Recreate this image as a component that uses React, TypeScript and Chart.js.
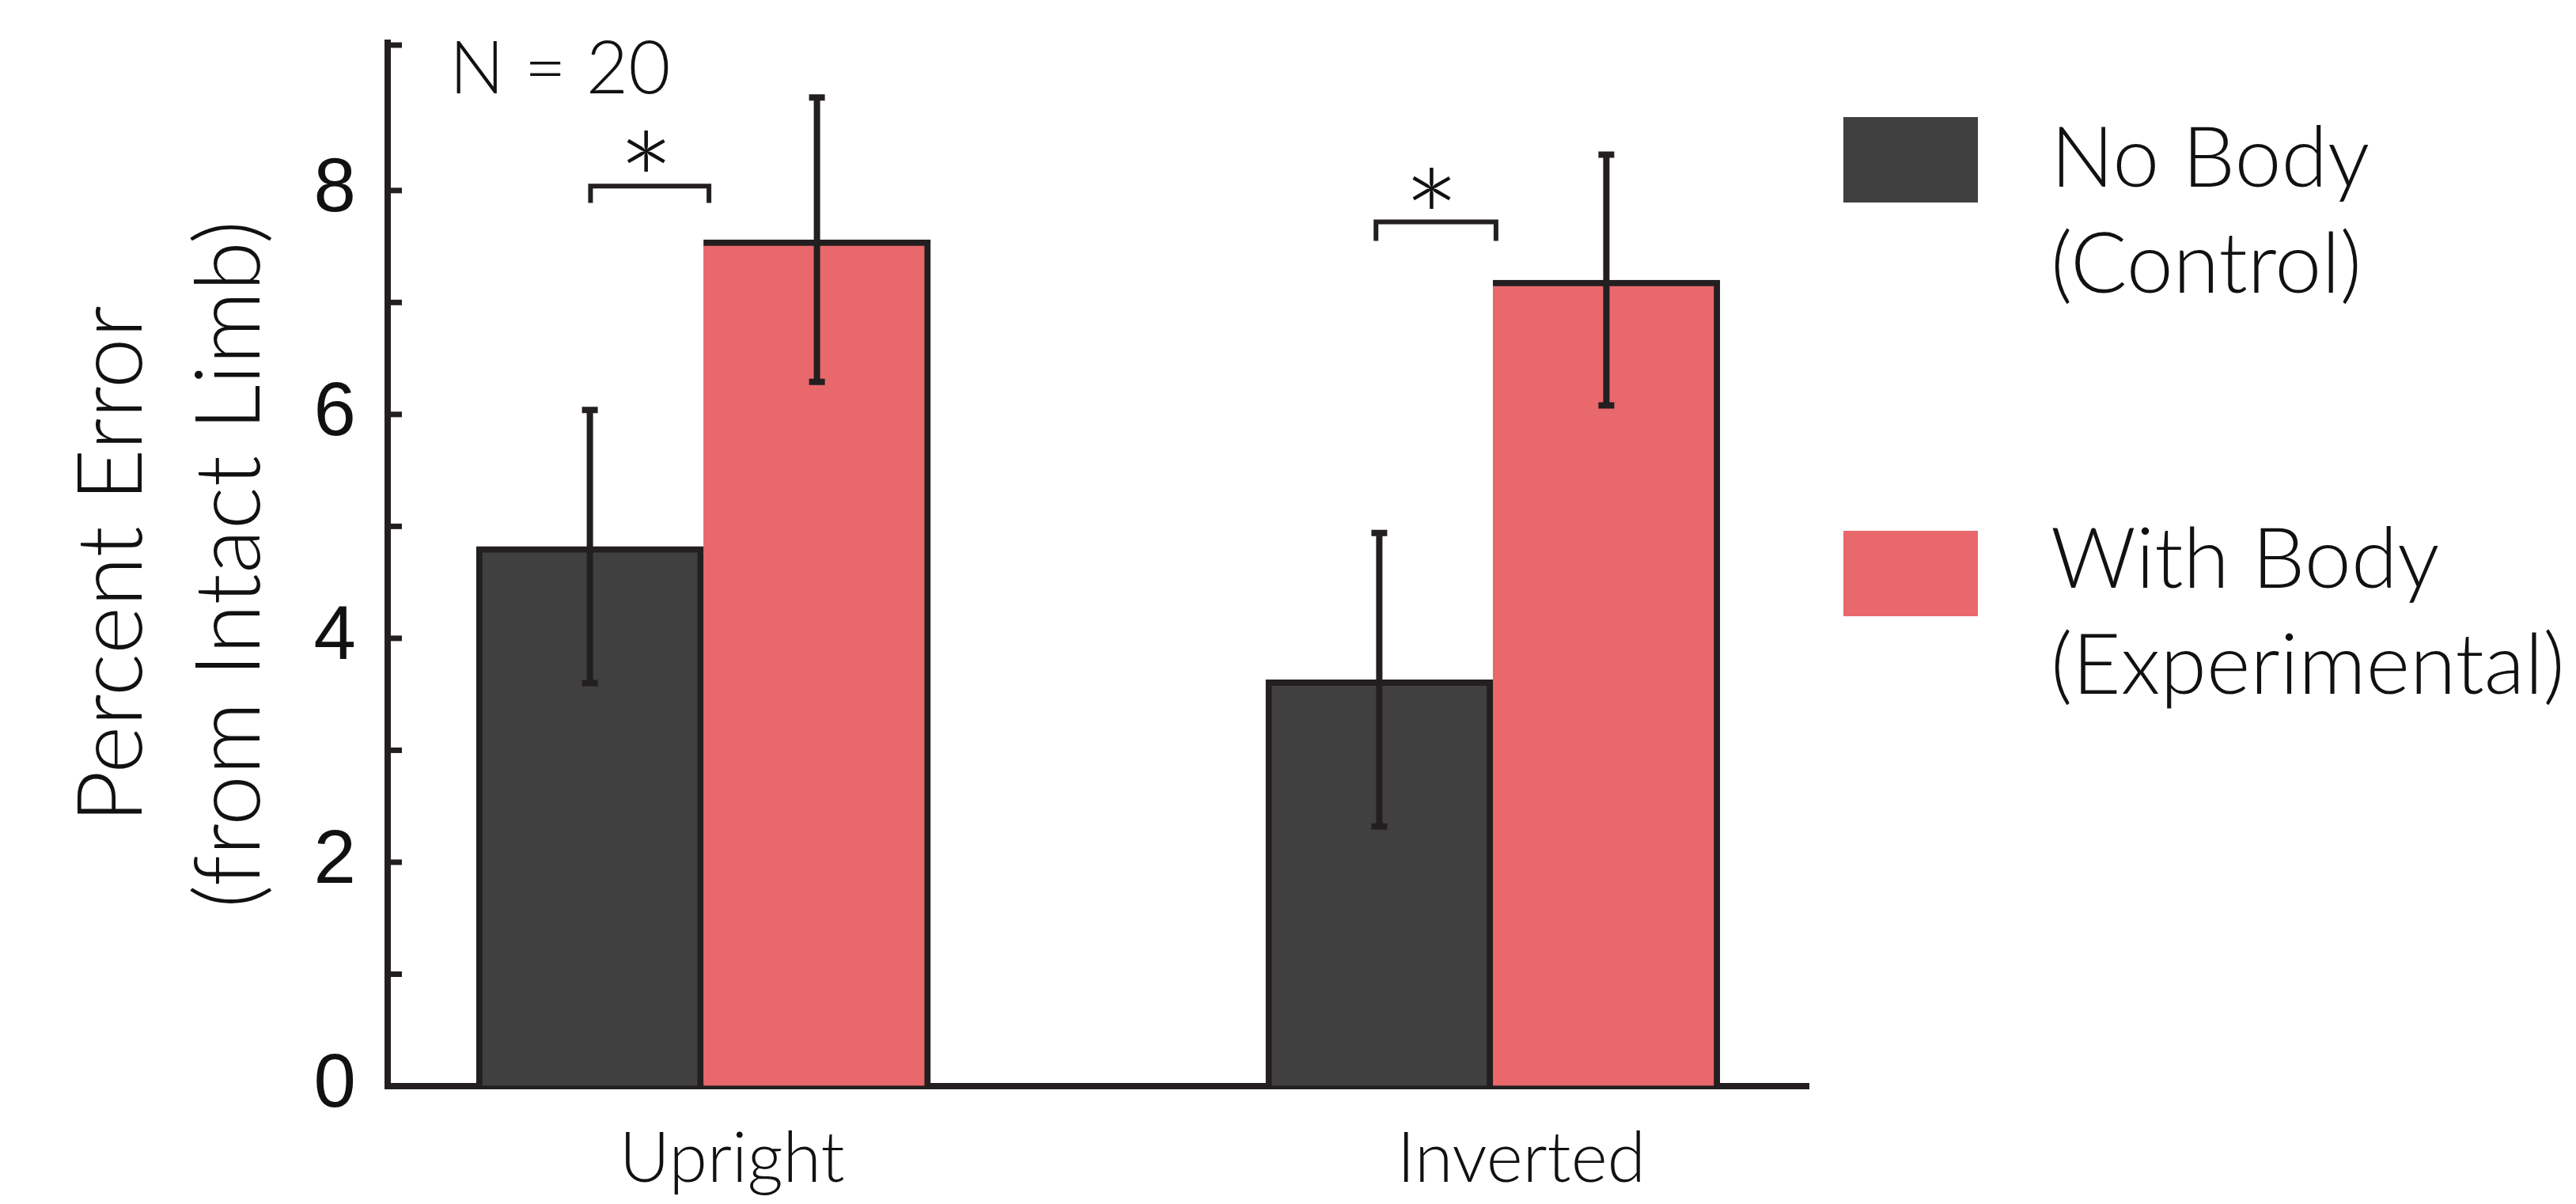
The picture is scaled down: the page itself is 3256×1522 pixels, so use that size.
import React, { useEffect, useRef } from 'react';
import { Chart, registerables } from 'chart.js';

Chart.register(...registerables);

// ---------- data ----------
const categories = ['Upright', 'Inverted'];
const categoryPositions = [1, 2];
const seriesLabels = [
  ['No Body', '(Control)'],
  ['With Body', '(Experimental)'],
];
const noBody = [4.82, 3.63];
const withBody = [7.56, 7.2];
const noBodyErr = [1.22, 1.31];
const withBodyErr = [1.27, 1.12];
const yTickValues = [0, 1, 2, 3, 4, 5, 6, 7, 8];
const yLabelledTicks = [0, 2, 4, 6, 8];
const yMin = 0;
const yMax = 9.32;
const xMin = 0.6;
const xMax = 2.4;
// significance brackets (data coordinates)
const sigStart = [0.857, 1.852];
const sigEnd = [1.007, 2.004];
const sigLevel = [8.04, 7.72];
const sigLegEnd = [7.89, 7.55];
const sigMarkX = [0.927, 1.922];
const sigMarkY = [8.35, 8.02];
const sigMarkText = '*';
const sampleLabel = 'N = 20';
const yTitle = ['Percent Error', '(from Intact Limb)'];

// ---------- styles ----------
const DARK = '#404040';
const RED = '#E9686C';
const EDGE = '#231F20';
const TEXT = '#111111';
const LIGHT_FONT = 'Lato';

const W = 3256;
const H = 1522;

const inwardTicksPlugin = {
  id: 'inwardTicks',
  afterDraw(chart: any) {
    const { ctx, chartArea } = chart;
    const y = chart.scales.y;
    ctx.save();
    ctx.strokeStyle = EDGE;
    ctx.lineWidth = 7;
    const vals = [...yTickValues, yMax];
    vals.forEach((v) => {
      const py = Math.max(y.getPixelForValue(v), chartArea.top + 3);
      ctx.beginPath();
      ctx.moveTo(chartArea.left, py);
      ctx.lineTo(chartArea.left + 18, py);
      ctx.stroke();
    });
    ctx.restore();
  },
};

const errorBarPlugin = {
  id: 'errorBars',
  afterDatasetsDraw(chart: any) {
    const { ctx } = chart;
    const y = chart.scales.y;
    const vals = [noBody, withBody];
    const errs = [noBodyErr, withBodyErr];
    ctx.save();
    ctx.strokeStyle = EDGE;
    vals.forEach((series, di) => {
      const meta = chart.getDatasetMeta(di);
      meta.data.forEach((bar: any, i: number) => {
        const top = y.getPixelForValue(series[i] + errs[di][i]);
        const bot = y.getPixelForValue(series[i] - errs[di][i]);
        ctx.lineWidth = 8;
        ctx.beginPath();
        ctx.moveTo(bar.x, top);
        ctx.lineTo(bar.x, bot);
        ctx.stroke();
        ctx.lineWidth = 8;
        ctx.beginPath();
        ctx.moveTo(bar.x - 10, top);
        ctx.lineTo(bar.x + 10, top);
        ctx.moveTo(bar.x - 10, bot);
        ctx.lineTo(bar.x + 10, bot);
        ctx.stroke();
      });
    });
    ctx.restore();
  },
};

const significancePlugin = {
  id: 'significance',
  afterDraw(chart: any) {
    const { ctx } = chart;
    const x = chart.scales.x;
    const y = chart.scales.y;
    ctx.save();
    ctx.strokeStyle = EDGE;
    ctx.lineWidth = 6;
    ctx.lineJoin = 'miter';
    sigStart.forEach((s, i) => {
      const x1 = x.getPixelForValue(s);
      const x2 = x.getPixelForValue(sigEnd[i]);
      const yl = y.getPixelForValue(sigLevel[i]);
      const ye = y.getPixelForValue(sigLegEnd[i]);
      ctx.beginPath();
      ctx.moveTo(x1, ye);
      ctx.lineTo(x1, yl);
      ctx.lineTo(x2, yl);
      ctx.lineTo(x2, ye);
      ctx.stroke();
      // asterisk
      ctx.fillStyle = TEXT;
      ctx.font = `300 100px ${LIGHT_FONT}`;
      const m = ctx.measureText(sigMarkText);
      const inkH = m.actualBoundingBoxAscent + m.actualBoundingBoxDescent || 40;
      const size = (100 * 54) / inkH;
      ctx.font = `300 ${size}px ${LIGHT_FONT}`;
      const m2 = ctx.measureText(sigMarkText);
      const cx = x.getPixelForValue(sigMarkX[i]);
      const cy = y.getPixelForValue(sigMarkY[i]);
      ctx.textAlign = 'left';
      ctx.textBaseline = 'alphabetic';
      const inkW = m2.actualBoundingBoxLeft + m2.actualBoundingBoxRight;
      const inkTop = m2.actualBoundingBoxAscent;
      const inkBot = m2.actualBoundingBoxDescent;
      ctx.fillText(
        sigMarkText,
        cx - inkW / 2 + m2.actualBoundingBoxLeft,
        cy + (inkTop - inkBot) / 2
      );
    });
    // sample size label
    ctx.fillStyle = TEXT;
    ctx.font = `300 92px ${LIGHT_FONT}`;
    ctx.textAlign = 'left';
    ctx.textBaseline = 'alphabetic';
    ctx.fillText(sampleLabel, chart.chartArea.left + 78, chart.chartArea.top + 64);
    ctx.restore();
  },
};

const legendPlugin = {
  id: 'customLegend',
  afterDraw(chart: any) {
    const { ctx } = chart;
    const colors = [DARK, RED];
    const boxX = 2330;
    const boxW = 170;
    const boxH = 108;
    const boxTops = [148, 671];
    const textX = 2592;
    const firstBaseline = [236, 743];
    const lineGap = 134;
    ctx.save();
    seriesLabels.forEach((lines, i) => {
      ctx.fillStyle = colors[i];
      ctx.fillRect(boxX, boxTops[i], boxW, boxH);
      ctx.fillStyle = TEXT;
      ctx.font = `300 106px ${LIGHT_FONT}`;
      ctx.textAlign = 'left';
      ctx.textBaseline = 'alphabetic';
      lines.forEach((t, j) => {
        ctx.fillText(t, textX, firstBaseline[i] + j * lineGap);
      });
    });
    ctx.restore();
  },
};

export default function App() {
  const ref = useRef<HTMLCanvasElement | null>(null);

  useEffect(() => {
    document.body.style.margin = '0';
    const canvas = ref.current;
    if (!canvas) return;
    const chart = new Chart(canvas, {
      type: 'bar',
      data: {
        datasets: [
          {
            label: seriesLabels[0].join(' '),
            data: categoryPositions.map((x, i) => ({ x, y: noBody[i] })),
            backgroundColor: DARK,
            borderColor: EDGE,
            borderWidth: { left: 8, top: 8, right: 8, bottom: 0 },
            borderSkipped: false,
            barThickness: 287,
          },
          {
            label: seriesLabels[1].join(' '),
            data: categoryPositions.map((x, i) => ({ x, y: withBody[i] })),
            backgroundColor: RED,
            borderColor: EDGE,
            borderWidth: { left: 0, top: 8, right: 8, bottom: 0 },
            borderSkipped: false,
            barThickness: 287,
          },
        ],
      },
      options: {
        responsive: false,
        animation: false,
        devicePixelRatio: 1,
        layout: { padding: { top: 54, right: 970, bottom: 0, left: 0 } },
        plugins: {
          legend: { display: false },
          tooltip: { enabled: false },
        },
        scales: {
          x: {
            type: 'linear',
            min: xMin,
            max: xMax,
            offset: false,
            grid: {
              display: true,
              drawOnChartArea: false,
              drawTicks: false,
              color: 'rgba(0,0,0,0)',
            },
            border: { display: true, color: EDGE, width: 8 },
            afterBuildTicks: (s: any) => {
              s.ticks = categoryPositions.map((v) => ({ value: v }));
            },
            afterFit: (s: any) => {
              s.height = H - 1373;
              s.paddingLeft = 0;
              s.paddingRight = 0;
            },
            ticks: {
              autoSkip: false,
              maxRotation: 0,
              padding: 40,
              labelOffset: 36,
              color: TEXT,
              font: { family: LIGHT_FONT, weight: 300, size: 88 },
              callback: (v: any) => {
                const idx = categoryPositions.indexOf(Number(v));
                return idx >= 0 ? categories[idx] : '';
              },
            },
          },
          y: {
            type: 'linear',
            min: yMin,
            max: yMax,
            grid: {
              display: true,
              drawOnChartArea: false,
              drawTicks: false,
              color: 'rgba(0,0,0,0)',
            },
            border: { display: true, color: EDGE, width: 8 },
            afterBuildTicks: (s: any) => {
              s.ticks = yTickValues.map((v) => ({ value: v }));
            },
            afterFit: (s: any) => {
              s.width = 490;
              s.paddingTop = 0;
              s.paddingBottom = 0;
            },
            ticks: {
              padding: 40,
              color: TEXT,
              font: { family: 'Liberation Sans', size: 96 },
              callback: (v: any) =>
                yLabelledTicks.includes(Number(v)) ? String(v) : '',
            },
            title: {
              display: true,
              text: yTitle,
              color: TEXT,
              font: { family: LIGHT_FONT, weight: 300, size: 115, lineHeight: 1.3 },
              padding: { top: 67, bottom: 0 },
            },
          },
        },
      },
      plugins: [errorBarPlugin, inwardTicksPlugin, significancePlugin, legendPlugin],
    } as any);
    return () => chart.destroy();
  }, []);

  return (
    <div style={{ width: W, height: H, background: '#fff' }}>
      <canvas ref={ref} width={W} height={H} style={{ display: 'block', width: W, height: H }} />
    </div>
  );
}
